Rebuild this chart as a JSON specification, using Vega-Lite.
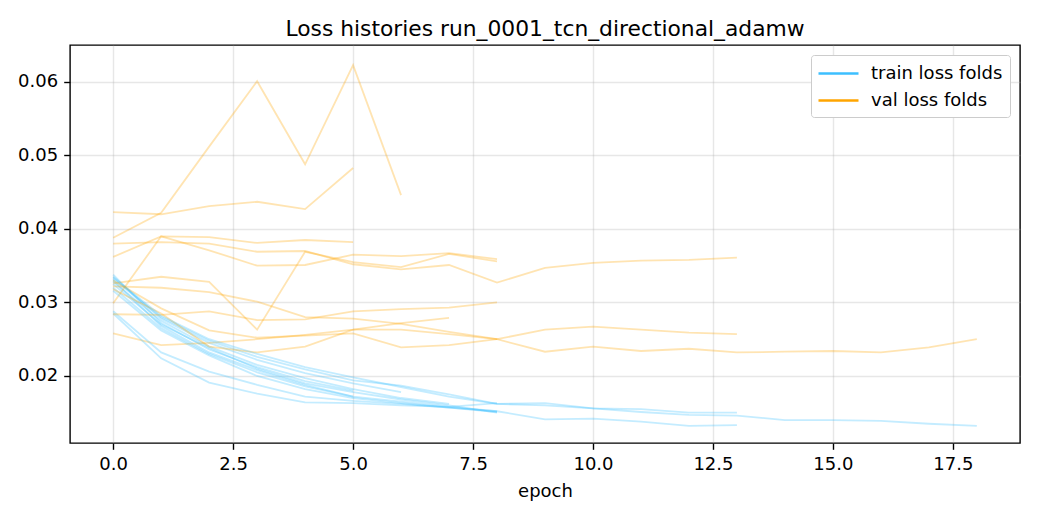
{
"$schema": "https://vega.github.io/schema/vega-lite/v6.json",
"width": 950, "height": 398,
"autosize": "none",
"padding": {"left": 70, "top": 45, "right": 20, "bottom": 77},
"background": "white",
"title": {"text": "Loss histories run_0001_tcn_directional_adamw", "font": "DejaVu Sans", "fontSize": 21.8, "fontWeight": "normal", "color": "black", "offset": 4},
"config": {
  "view": {"stroke": "black", "strokeWidth": 1.4},
  "axis": {"domain": false, "tickColor": "black", "tickSize": 6.3, "tickWidth": 1.4, "labelFont": "DejaVu Sans", "labelFontSize": 18, "labelColor": "black", "labelPadding": 5, "gridColor": "#b0b0b0", "gridOpacity": 0.3, "gridWidth": 1.4, "titleFont": "DejaVu Sans", "titleFontSize": 18, "titleFontWeight": "normal", "titleColor": "black"},
  "legend": {"labelFont": "DejaVu Sans", "labelFontSize": 18, "labelColor": "black"}
},
"data": {"values": [
{"fold":1,"epoch":0,"train":0.0338,"val":0.0423},{"fold":1,"epoch":1,"train":0.0272,"val":0.0420},{"fold":1,"epoch":2,"train":0.0236,"val":0.0431},{"fold":1,"epoch":3,"train":0.0212,"val":0.0437},{"fold":1,"epoch":4,"train":0.0193,"val":0.0427},{"fold":1,"epoch":5,"train":0.0180,"val":0.0483},
{"fold":2,"epoch":0,"train":0.0330,"val":0.0362},{"fold":2,"epoch":1,"train":0.0268,"val":0.0390},{"fold":2,"epoch":2,"train":0.0232,"val":0.0389},{"fold":2,"epoch":3,"train":0.0208,"val":0.0381},{"fold":2,"epoch":4,"train":0.0188,"val":0.0385},{"fold":2,"epoch":5,"train":0.0172,"val":0.0382},
{"fold":3,"epoch":0,"train":0.0335,"val":0.0388},{"fold":3,"epoch":1,"train":0.0278,"val":0.0422},{"fold":3,"epoch":2,"train":0.0245,"val":0.0512},{"fold":3,"epoch":3,"train":0.0222,"val":0.0601},{"fold":3,"epoch":4,"train":0.0204,"val":0.0488},{"fold":3,"epoch":5,"train":0.0190,"val":0.0623},{"fold":3,"epoch":6,"train":0.0178,"val":0.0446},
{"fold":4,"epoch":0,"train":0.0328,"val":0.0258},{"fold":4,"epoch":1,"train":0.0275,"val":0.0242},{"fold":4,"epoch":2,"train":0.0240,"val":0.0245},{"fold":4,"epoch":3,"train":0.0215,"val":0.0250},{"fold":4,"epoch":4,"train":0.0197,"val":0.0256},{"fold":4,"epoch":5,"train":0.0182,"val":0.0263},{"fold":4,"epoch":6,"train":0.0170,"val":0.0272},{"fold":4,"epoch":7,"train":0.0162,"val":0.0279},
{"fold":5,"epoch":0,"train":0.0288,"val":0.0299},{"fold":5,"epoch":1,"train":0.0232,"val":0.0390},{"fold":5,"epoch":2,"train":0.0206,"val":0.0371},{"fold":5,"epoch":3,"train":0.0188,"val":0.0350},{"fold":5,"epoch":4,"train":0.0172,"val":0.0351},{"fold":5,"epoch":5,"train":0.0166,"val":0.0365},{"fold":5,"epoch":6,"train":0.0162,"val":0.0363},{"fold":5,"epoch":7,"train":0.0157,"val":0.0367},{"fold":5,"epoch":8,"train":0.0151,"val":0.0359},
{"fold":6,"epoch":0,"train":0.0285,"val":0.0326},{"fold":6,"epoch":1,"train":0.0224,"val":0.0335},{"fold":6,"epoch":2,"train":0.0191,"val":0.0328},{"fold":6,"epoch":3,"train":0.0176,"val":0.0263},{"fold":6,"epoch":4,"train":0.0164,"val":0.0369},{"fold":6,"epoch":5,"train":0.0163,"val":0.0355},{"fold":6,"epoch":6,"train":0.0160,"val":0.0348},{"fold":6,"epoch":7,"train":0.0158,"val":0.0366},{"fold":6,"epoch":8,"train":0.0152,"val":0.0356},
{"fold":7,"epoch":0,"train":0.0332,"val":0.0380},{"fold":7,"epoch":1,"train":0.0280,"val":0.0382},{"fold":7,"epoch":2,"train":0.0248,"val":0.0380},{"fold":7,"epoch":3,"train":0.0226,"val":0.0369},{"fold":7,"epoch":4,"train":0.0209,"val":0.0370},{"fold":7,"epoch":5,"train":0.0194,"val":0.0352},{"fold":7,"epoch":6,"train":0.0187,"val":0.0345},{"fold":7,"epoch":7,"train":0.0175,"val":0.0351},{"fold":7,"epoch":8,"train":0.0162,"val":0.0327},{"fold":7,"epoch":9,"train":0.0163,"val":0.0347},{"fold":7,"epoch":10,"train":0.0156,"val":0.0354},{"fold":7,"epoch":11,"train":0.0155,"val":0.0357},{"fold":7,"epoch":12,"train":0.0150,"val":0.0358},{"fold":7,"epoch":13,"train":0.0150,"val":0.0361},
{"fold":8,"epoch":0,"train":0.0325,"val":0.0284},{"fold":8,"epoch":1,"train":0.0270,"val":0.0283},{"fold":8,"epoch":2,"train":0.0238,"val":0.0288},{"fold":8,"epoch":3,"train":0.0210,"val":0.0276},{"fold":8,"epoch":4,"train":0.0190,"val":0.0277},{"fold":8,"epoch":5,"train":0.0178,"val":0.0288},{"fold":8,"epoch":6,"train":0.0168,"val":0.0291},{"fold":8,"epoch":7,"train":0.0160,"val":0.0293},{"fold":8,"epoch":8,"train":0.0150,"val":0.0300},
{"fold":9,"epoch":0,"train":0.0320,"val":0.0318},{"fold":9,"epoch":1,"train":0.0265,"val":0.0285},{"fold":9,"epoch":2,"train":0.0230,"val":0.0240},{"fold":9,"epoch":3,"train":0.0205,"val":0.0232},{"fold":9,"epoch":4,"train":0.0186,"val":0.0240},{"fold":9,"epoch":5,"train":0.0172,"val":0.0263},{"fold":9,"epoch":6,"train":0.0165,"val":0.0263},{"fold":9,"epoch":7,"train":0.0158,"val":0.0257},{"fold":9,"epoch":8,"train":0.0163,"val":0.0250},
{"fold":10,"epoch":0,"train":0.0316,"val":0.0330},{"fold":10,"epoch":1,"train":0.0262,"val":0.0292},{"fold":10,"epoch":2,"train":0.0228,"val":0.0262},{"fold":10,"epoch":3,"train":0.0200,"val":0.0252},{"fold":10,"epoch":4,"train":0.0182,"val":0.0255},{"fold":10,"epoch":5,"train":0.0170,"val":0.0258},{"fold":10,"epoch":6,"train":0.0163,"val":0.0239},{"fold":10,"epoch":7,"train":0.0157,"val":0.0242},{"fold":10,"epoch":8,"train":0.0152,"val":0.0250},{"fold":10,"epoch":9,"train":0.0141,"val":0.0263},{"fold":10,"epoch":10,"train":0.0142,"val":0.0267},{"fold":10,"epoch":11,"train":0.0138,"val":0.0263},{"fold":10,"epoch":12,"train":0.0132,"val":0.0259},{"fold":10,"epoch":13,"train":0.0133,"val":0.0257},
{"fold":11,"epoch":0,"train":0.0334,"val":0.0322},{"fold":11,"epoch":1,"train":0.0282,"val":0.0320},{"fold":11,"epoch":2,"train":0.0250,"val":0.0314},{"fold":11,"epoch":3,"train":0.0230,"val":0.0301},{"fold":11,"epoch":4,"train":0.0212,"val":0.0280},{"fold":11,"epoch":5,"train":0.0198,"val":0.0278},{"fold":11,"epoch":6,"train":0.0185,"val":0.0271},{"fold":11,"epoch":7,"train":0.0172,"val":0.0260},{"fold":11,"epoch":8,"train":0.0162,"val":0.0250},{"fold":11,"epoch":9,"train":0.0160,"val":0.0233},{"fold":11,"epoch":10,"train":0.0156,"val":0.0240},{"fold":11,"epoch":11,"train":0.0151,"val":0.0234},{"fold":11,"epoch":12,"train":0.0147,"val":0.0237},{"fold":11,"epoch":13,"train":0.0146,"val":0.0232},{"fold":11,"epoch":14,"train":0.0140,"val":0.0233},{"fold":11,"epoch":15,"train":0.0140,"val":0.0234},{"fold":11,"epoch":16,"train":0.0139,"val":0.0232},{"fold":11,"epoch":17,"train":0.0135,"val":0.0239},{"fold":11,"epoch":18,"train":0.0132,"val":0.0250}
]},
"transform": [{"fold": ["train", "val"], "as": ["kind", "loss"]}],
"mark": {"type": "line", "strokeWidth": 1.8, "opacity": 0.3},
"encoding": {
  "x": {"field": "epoch", "type": "quantitative", "scale": {"domain": [-0.9, 18.9], "nice": false, "zero": false},
        "axis": {"values": [0, 2.5, 5, 7.5, 10, 12.5, 15, 17.5], "format": ".1f", "title": "epoch", "labelPadding": 6, "titlePadding": 9}},
  "y": {"field": "loss", "type": "quantitative", "scale": {"domain": [0.01088, 0.06503], "nice": false, "zero": false},
        "axis": {"values": [0.02, 0.03, 0.04, 0.05, 0.06], "format": ".2f", "title": null, "labelPadding": 6}},
  "color": {"field": "kind", "type": "nominal", "scale": {"domain": ["train", "val"], "range": ["#3cbfff", "#ffa500"]},
            "legend": {"title": null, "orient": "top-right", "offset": 10, "labelExpr": "datum.label == 'train' ? 'train loss folds' : 'val loss folds'",
                       "symbolType": "M-2,0L2,0", "symbolSize": 400, "symbolStrokeWidth": 2.7, "symbolOpacity": 1, "symbolOffset": 9, "labelOffset": 21,
                       "padding": 7, "rowPadding": 6, "strokeColor": "#cccccc", "fillColor": "white", "cornerRadius": 3}},
  "detail": {"field": "fold", "type": "nominal"}
}
}
